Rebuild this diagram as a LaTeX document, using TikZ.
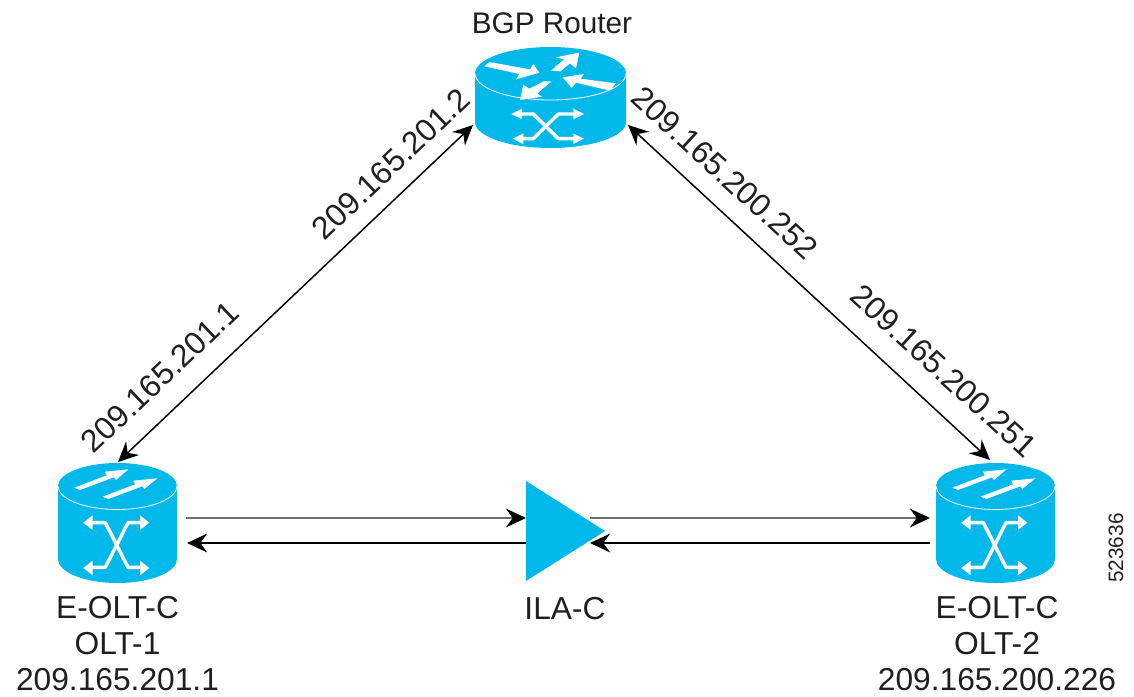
\documentclass[tikz,border=0pt]{standalone}
\usepackage{fontspec}
\setmainfont{Liberation Sans}
\usetikzlibrary{arrows.meta,calc}
\definecolor{ciscoblue}{HTML}{00B9EA}
\definecolor{linegray}{HTML}{6E6E6E}
\newcommand{\oltglyph}{%
  \fill[white] (133,143)--(230,106)--(225,95)--(295,88)--(258,120)--(252,112)--(150,150)--cycle;
  \fill[white] (218,170)--(315,133)--(310,122)--(382,115)--(343,147)--(337,139)--(235,177)--cycle;
  \draw[iconline] (178,248)--(226,248)--(294,382)--(340,382);
  \draw[iconline] (178,382)--(226,382)--(294,248)--(340,248);
  \fill[white] (160,248)--(188,226)--(188,270)--cycle;
  \fill[white] (160,384)--(188,362)--(188,406)--cycle;
  \fill[white] (358,248)--(330,226)--(330,270)--cycle;
  \fill[white] (358,384)--(330,362)--(330,406)--cycle;
}
\newcommand{\routerglyph}{%
  \fill[white] (103,199)--(118,186)--(240,208)--(250,193)--(268,218)--(198,238)--(208,222)--cycle;
  \fill[white] (303,212)--(342,178)--(318,172)--(388,158)--(378,205)--(360,190)--(332,214)--cycle;
  \fill[white] (338,232)--(402,222)--(392,236)--(497,250)--(480,272)--(378,248)--(365,264)--cycle;
  \fill[white] (210,300)--(220,254)--(238,266)--(283,243)--(304,245)--(262,280)--(276,290)--cycle;
  \draw[iconline] (205,342)--(250,342)--(325,416)--(380,416);
  \draw[iconline] (205,416)--(250,416)--(325,342)--(380,342);
  \fill[white] (184,342)--(216,326)--(216,358)--cycle;
  \fill[white] (188,416)--(220,400)--(220,432)--cycle;
  \fill[white] (402,342)--(370,326)--(370,358)--cycle;
  \fill[white] (402,416)--(370,400)--(370,432)--cycle;
}
\tikzset{
  x=0.75pt,y=-0.75pt,
  iconline/.style={draw=white,line width=2.6pt,line join=round},
  device/.style={inner sep=0pt,outer sep=0pt,draw=none},
  lbl/.style={inner sep=0pt,font=\fontsize{23.8}{27}\selectfont,text=black!88,align=center},
  ip/.style={lbl},
  link/.style={black,line width=1.1pt,{Stealth[length=15pt,width=14pt,inset=5pt]}-{Stealth[length=15pt,width=14pt,inset=5pt]}},
  oneway/.style={black,line width=1.1pt,-{Stealth[length=15pt,width=14pt,inset=5pt]}},
  onewaygray/.style={linegray,line width=1.8pt,-{Stealth[length=15pt,width=14pt,inset=5pt,black]}},
}
\begin{document}
\begin{tikzpicture}
\useasboundingbox (0,0) rectangle (1134,696);
% devices
\node[device,minimum width=113.25pt,minimum height=75.75pt] (router) at (550.5,97.5) {};
\fill[ciscoblue] (475,73.5) -- (475,122) arc[start angle=180,end angle=0,x radius=75.5,y radius=26] -- (626,73.5) arc[start angle=0,end angle=-180,x radius=75.5,y radius=26.5] -- cycle;
\draw[white,line width=0.6pt] (475,73.5) arc[start angle=180,end angle=0,x radius=75.5,y radius=26.5];
\begin{scope}[shift={(450,0)},x=0.25pt,y=-0.25pt]\routerglyph\end{scope}

\node[device,minimum width=89.25pt,minimum height=90pt] (olta) at (117.5,523) {};
\fill[ciscoblue] (58,486) -- (58,559) arc[start angle=180,end angle=0,x radius=59.5,y radius=24] -- (177,486) arc[start angle=0,end angle=-180,x radius=59.5,y radius=23] -- cycle;
\draw[white,line width=0.6pt] (58,486) arc[start angle=180,end angle=0,x radius=59.5,y radius=23.5];
\begin{scope}[shift={(30,440)},x=0.25pt,y=-0.25pt]\oltglyph\end{scope}

\node[device,minimum width=89.25pt,minimum height=90pt] (oltb) at (995.5,523) {};
\fill[ciscoblue] (936,486) -- (936,559) arc[start angle=180,end angle=0,x radius=59.5,y radius=24] -- (1055,486) arc[start angle=0,end angle=-180,x radius=59.5,y radius=23] -- cycle;
\draw[white,line width=0.6pt] (936,486) arc[start angle=180,end angle=0,x radius=59.5,y radius=23.5];
\begin{scope}[shift={(908,440)},x=0.25pt,y=-0.25pt]\oltglyph\end{scope}

\node[device,minimum width=59.25pt,minimum height=75pt] (ila) at (565.5,531) {};
\fill[ciscoblue] (ila.north west) -- (ila.east) -- (ila.south west) -- cycle;

% connectors
\draw[link] ($(router.south west)+(-2,-23)$) -- ($(olta.north)+(0.5,-1)$);
\draw[link] ($(router.south east)+(2,-23)$) -- ($(oltb.north)+(-5.5,-3)$);
\draw[onewaygray] ($(olta.east)+(9,-5)$) -- ($(ila.west)+(0,-13)$);
\draw[oneway] ($(ila.west)+(0,12)$) -- ($(olta.east)+(10,20)$);
\draw[onewaygray] ($(ila.east)+(-15,-13)$) -- ($(oltb.west)+(-6,-5)$);
\draw[oneway] ($(oltb.west)+(-6,20)$) -- ($(ila.east)+(-15,12)$);

% labels
\node[lbl,font=\fontsize{22.3}{27}\selectfont] (tbgp) at (552,23) {BGP Router};
\node[lbl] (t1) at (117.5,644) {E-OLT-C\\OLT-1\\209.165.201.1};
\node[lbl] (t2) at (997,644) {E-OLT-C\\OLT-2\\209.165.200.226};
\node[lbl] (t3) at (565,609) {ILA-C};
\node[ip,rotate=43.5] (a1) at (391,164) {209.165.201.2};
\node[ip,rotate=43.5] (a2) at (160,377) {209.165.201.1};
\node[ip,rotate=-42.5] (a3) at (725,173) {209.165.200.252};
\node[ip,rotate=-42.5] (a4) at (944,371) {209.165.200.251};
\node[lbl,rotate=90,font=\fontsize{15.6}{18}\selectfont] (num) at (1116,548) {523636};
\end{tikzpicture}
\end{document}
